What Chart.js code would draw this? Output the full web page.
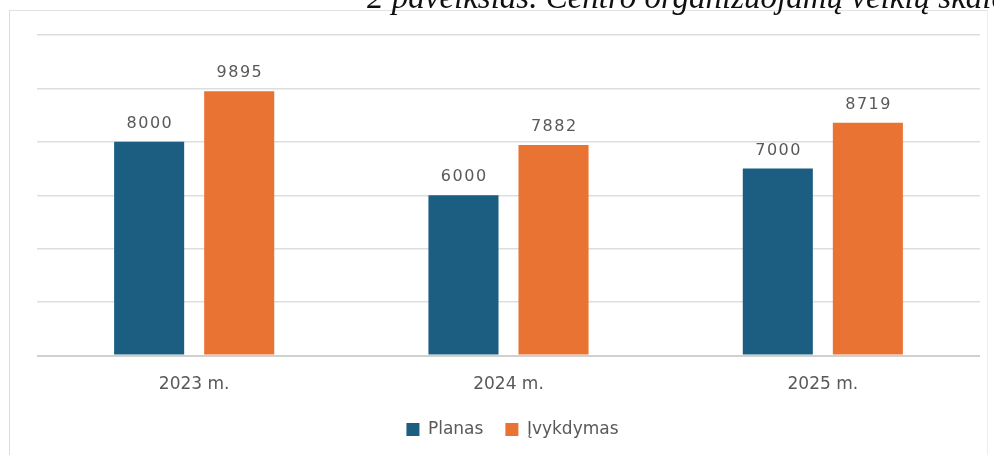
<!DOCTYPE html>
<html>
<head>
<meta charset="utf-8">
<script src="https://cdn.jsdelivr.net/npm/chart.js@4"></script>
<style>
  html, body { margin: 0; padding: 0; background: #fff; overflow: hidden; }
  #wrap { position: relative; width: 994px; height: 455px; }
  #frame { position: absolute; left: 9px; top: 10px; width: 977px; height: 460px;
           border-left: 1.5px solid #dcdcdc; border-top: 1.5px solid #e2e2e2; border-right: 1px solid #eeeeee; }
  #cap { position: absolute; left: 367px; top: -19px; white-space: nowrap;
         font-family: "Liberation Serif", serif; font-style: italic; font-size: 33px; line-height: 33px; color: #111; }
  #c { position: absolute; left: 0; top: 0; }
</style>
</head>
<body>
<div id="wrap">
  <div id="frame"></div>
  <canvas id="c" width="994" height="455"></canvas>
  <div id="cap">2 paveikslas. Centro organizuojamų veiklų skaičius</div>
</div>
<script>
const categories = ["2023 m.", "2024 m.", "2025 m."];
const planas = [8000, 6000, 7000];
const ivykdymas = [9895, 7882, 8719];
const seriesNames = ["Planas", "Įvykdymas"];

const textGray = "#595959";

const valueLabels = {
  id: "valueLabels",
  afterDatasetsDraw(chart) {
    const ctx = chart.ctx;
    ctx.save();
    ctx.font = '16px "DejaVu Sans"';
    ctx.fillStyle = textGray;
    ctx.textAlign = "center";
    ctx.textBaseline = "middle";
    try { ctx.letterSpacing = "1.5px"; } catch (e) {}
    chart.data.datasets.forEach((ds, i) => {
      const meta = chart.getDatasetMeta(i);
      meta.data.forEach((el, j) => {
        ctx.fillText(String(ds.data[j]), el.x + 0.75, el.y - 18);
      });
    });
    ctx.restore();
  }
};

const legendFit = {
  id: "legendFit",
  beforeInit(chart) {
    const lg = chart.legend;
    const orig = lg.fit;
    lg.fit = function () { orig.call(this); this.height -= 10; };
  },
  afterLayout(chart) {
    const lg = chart.legend;
    lg.top -= 7; lg.bottom -= 7;
    lg.left += 4; lg.right += 4;
  }
};

new Chart(document.getElementById("c"), {
  type: "bar",
  data: {
    labels: categories,
    datasets: [
      { label: seriesNames[0], data: planas, backgroundColor: "#1b5e82", borderWidth: 0 },
      { label: seriesNames[1], data: ivykdymas, backgroundColor: "#e97333", borderWidth: 0 }
    ]
  },
  options: {
    responsive: false,
    animation: false,
    devicePixelRatio: 1,
    layout: { padding: { left: 37, right: 14, top: 35, bottom: 10 } },
    datasets: { bar: { categoryPercentage: 0.573, barPercentage: 0.778 } },
    plugins: {
      tooltip: { enabled: false },
      legend: {
        position: "bottom",
        labels: {
          boxWidth: 13, boxHeight: 13, padding: 22,
          color: textGray,
          font: { family: "DejaVu Sans", size: 17 }
        }
      }
    },
    scales: {
      x: {
        grid: { display: false },
        border: { display: false },
        ticks: { color: textGray, font: { family: "DejaVu Sans", size: 17 }, padding: 11 }
      },
      y: {
        min: 0, max: 12000,
        ticks: { display: false, stepSize: 2000 },
        border: { display: false },
        grid: {
          drawTicks: false,
          color: (c) => c.tick && c.tick.value === 0 ? "#d0d0d0" : "#dedede",
          lineWidth: (c) => c.tick && c.tick.value === 0 ? 2 : 1.5
        }
      }
    }
  },
  plugins: [legendFit, valueLabels]
});
</script>
</body>
</html>
